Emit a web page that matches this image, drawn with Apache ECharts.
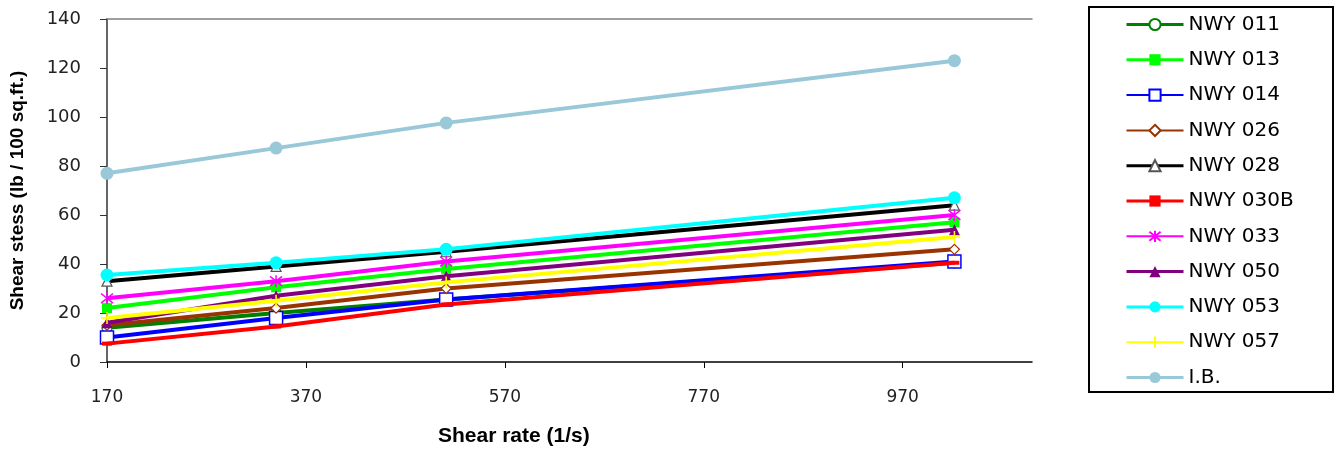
<!DOCTYPE html>
<html>
<head>
<meta charset="utf-8">
<script src="https://cdn.jsdelivr.net/npm/echarts@6/dist/echarts.min.js"></script>
<style>
  html, body { margin: 0; padding: 0; background: #fff; }
  #chart { width: 1336px; height: 450px; }
</style>
</head>
<body>
<div id="chart"></div>
<script>
// ---- data ----
const shearRates = [170, 340, 511, 1022];
const xTicks = [170, 370, 570, 770, 970];
const yTicks = [0, 20, 40, 60, 80, 100, 120, 140];
const seriesNames = ['NWY 011', 'NWY 013', 'NWY 014', 'NWY 026', 'NWY 028', 'NWY 030B', 'NWY 033', 'NWY 050', 'NWY 053', 'NWY 057', 'I.B.'];
const nwy011  = [14, 20, 25.5, 40.5];
const nwy013  = [22, 30.5, 38, 57];
const nwy014  = [10, 18, 25.5, 41];
const nwy026  = [15, 22, 30, 46];
const nwy028  = [33, 39, 45, 64];
const nwy030B = [7.5, 14.5, 23.5, 40.5];
const nwy033  = [26, 33, 41, 60];
const nwy050  = [16, 27, 35, 54];
const nwy053  = [35.5, 40.5, 46, 67];
const nwy057  = [18, 25, 32.5, 51];
const ib      = [77, 87.3, 97.6, 123];
const seriesValues = [nwy011, nwy013, nwy014, nwy026, nwy028, nwy030B, nwy033, nwy050, nwy053, nwy057, ib];
const xTitle = 'Shear rate (1/s)';
const yTitle = 'Shear stess (lb / 100 sq.ft.)';

// ---- styles ----
const FONT = 'DejaVu Sans';
const styles = [
  { color: '#008000', symbol: 'circle', size: 10, fill: '#fff', bw: 1.2, lw: 3 },
  { color: '#00ff00', symbol: 'rect', size: 10, fill: null, lw: 3 },
  { color: '#0000ff', symbol: 'rect', size: 13, fill: '#fff', bw: 1.5, lw: 2 },
  { color: '#993300', symbol: 'diamond', size: 10, fill: '#fff', bw: 1.2, lw: 2 },
  { color: '#000000', symbol: 'triangle', size: 10, fill: '#fff', bw: 1.2, border: '#555', lw: 3 },
  { color: '#ff0000', symbol: 'rect', size: [10, 4], fill: null, lw: 3 },
  { color: '#ff00ff', symbol: 'path://M1,1 L9,9 M9,1 L1,9 M5,0 L5,10', size: 12, fill: 'none', bw: 1.5, lw: 2 },
  { color: '#800080', symbol: 'triangle', size: 11, fill: null, lw: 3 },
  { color: '#00ffff', symbol: 'circle', size: 13, fill: null, lw: 3 },
  { color: '#ffff00', symbol: 'path://M5,0 L5,10 M0,5 L10,5', size: 12, fill: 'none', bw: 1.5, lw: 2 },
  { color: '#99c8d8', symbol: 'circle', size: 13, fill: null, lw: 3 }
];

const series = seriesNames.map((name, i) => {
  const s = styles[i];
  const itemStyle = s.fill === null
    ? { color: s.color }
    : { color: s.fill, borderColor: s.border || s.color, borderWidth: s.bw };
  return {
    name: name,
    type: 'line',
    data: shearRates.map((x, k) => [x, seriesValues[i][k]]),
    symbol: s.symbol,
    symbolSize: s.size,
    showAllSymbol: true,
    lineStyle: { color: s.color, width: 4 },
    itemStyle: itemStyle,
    emphasis: { disabled: true },
    animation: false,
    z: 2 + i
  };
});

const legendData = seriesNames.map((name, i) => ({
  name: name,
  lineStyle: { width: styles[i].lw }
}));

const chart = echarts.init(document.getElementById('chart'), null, { renderer: 'canvas' });
chart.setOption({
  animation: false,
  backgroundColor: '#fff',
  grid: { left: 107, right: 304, top: 19, bottom: 88, containLabel: false },
  xAxis: [{
    type: 'value',
    min: 170, max: 1100, interval: 200,
    axisLine: { lineStyle: { color: '#000', width: 1.5 } },
    axisTick: { show: true, inside: false, length: 6, lineStyle: { color: '#000' } },
    axisLabel: {
      margin: 27, showMaxLabel: false,
      fontFamily: FONT, fontSize: 17, color: '#222',
      formatter: v => (xTicks.indexOf(v) >= 0 ? String(v) : '')
    },
    splitLine: { show: false }
  }, {
    type: 'value', position: 'top', min: 170, max: 1100,
    axisLine: { show: true, lineStyle: { color: '#808080', width: 1.5 } },
    axisTick: { show: false }, axisLabel: { show: false }, splitLine: { show: false }
  }],
  yAxis: {
    type: 'value',
    min: 0, max: 140, interval: 20,
    name: yTitle,
    nameLocation: 'middle',
    nameGap: 80,
    nameTextStyle: { fontFamily: 'Liberation Sans', fontWeight: 'bold', fontSize: 19, color: '#000' },
    axisLine: { show: true, lineStyle: { color: '#333', width: 1.5 } },
    axisTick: { show: true, inside: false, length: 7, lineStyle: { color: '#333' } },
    axisLabel: {
      margin: 26, fontFamily: FONT, fontSize: 18, color: '#222',
      formatter: v => (yTicks.indexOf(v) >= 0 ? String(v) : '')
    },
    splitLine: { show: false }
  },
  legend: {
    orient: 'vertical',
    left: 1125, top: 14.5,
    padding: 0,
    itemWidth: 57, itemHeight: 14, itemGap: 15.3,
    textStyle: { fontFamily: FONT, fontSize: 20, color: '#000' },
    selectedMode: false,
    data: legendData
  },
  graphic: [{
    type: 'rect',
    shape: { x: 1089, y: 7, width: 244, height: 385 },
    style: { fill: 'none', stroke: '#000', lineWidth: 2 },
    silent: true
  }, {
    type: 'text',
    left: 438, top: 426,
    style: { text: xTitle, fontFamily: 'Liberation Sans', fontWeight: 'bold', fontSize: 21, fill: '#000' },
    silent: true
  }],
  series: series
});
</script>
</body>
</html>
